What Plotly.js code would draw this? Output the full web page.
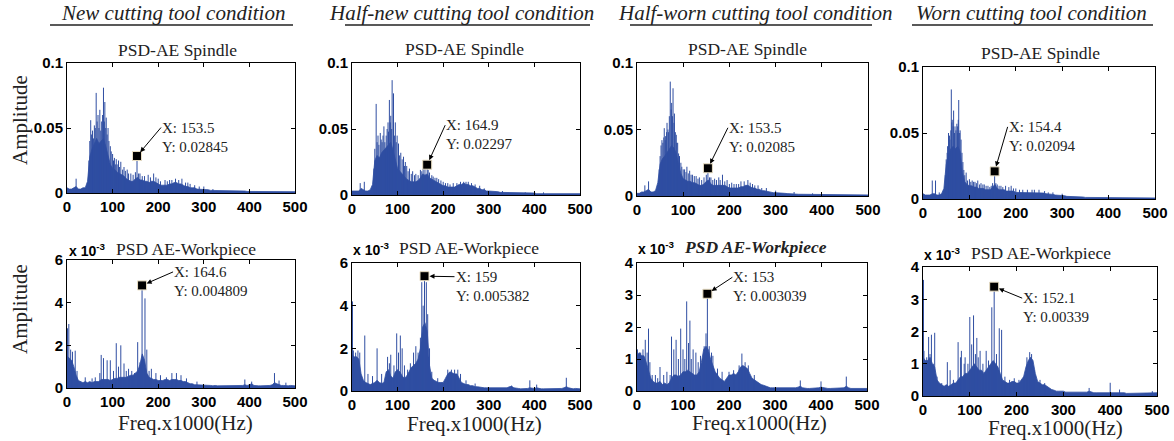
<!DOCTYPE html>
<html><head><meta charset="utf-8">
<script src="https://cdn.plot.ly/plotly-3.0.1.min.js"></script>
<style>html,body{margin:0;padding:0;background:#fff}#chart{width:1174px;height:441px}</style>
</head><body><div id="chart"></div>
<script>
// ---------- DATA ----------
const freq = [0,5,10,15,20,25,30,35,40,45,50,55,60,65,70,75,80,85,90,95,
 100,105,110,115,120,125,130,135,140,145,150,155,160,165,170,175,180,185,190,195,
 200,205,210,215,220,225,230,235,240,245,250,255,260,265,270,275,280,285,290,295,
 300,305,310,315,320,325,330,335,340,345,350,355,360,365,370,375,380,385,390,395,
 400,405,410,415,420,425,430,435,440,445,450,455,460,465,470,475,480,485,490,495,500];

// dense spectrum level, units of 1e-3
const envSpNew = [4,3,3,4,5,3,3,4,4,9, 28,34,38,42,38,40,42,36,28,22, 19,18,16,15,14,13,11,10,9,9,
 11,12,10,10,9,9,8,9,9,8, 7,6,6,6,6,7,7,8,8,7, 7,6,5,5,4,4,4,3,3,3,
 3,3,2.5,2,2,2,1.5,1.5,1.5,1.5, 1.5,1.5,1.5,1.5,1.5,1.5,1.5,1.5,1.5,1.2,
 1.2,1,1,1,1,1,1,1,1,1, 1,1,1,1,1,1,1,1,1,1,1];
const envSpHalfNew = [3,3,3,3,5,4,3,3,4,8, 26,30,28,32,34,36,38,40,34,28, 20,18,16,14,12,11,10,10,10,11,
 13,16,15,16,13,12,11,10,9,8, 7,7,6,6,6,6,7,8,8,9, 8,8,7,7,6,5,5,4,4,3,
 3,3,3,2.5,2.5,2,2,2,2,2, 1.5,1.5,1.5,1.5,1.5,1.5,1.5,1.5,1.5,1.5,
 1.5,1,1,1,1,1,1,1,1,1, 1,1,1,1,1,1,1,1,1,1,1];
const envSpHalfWorn = [2,2,3,3,4,5,3,3,4,10, 24,28,30,33,36,38,36,32,24,17, 13,12,11,11,10,10,9,8,8,9,
 11,12,9,8,8,8,8,8,8,7, 6,6,6,6,6,7,7,8,8,7, 6,6,5,5,4,4,3.5,3,3,2.5,
 2.5,2.5,2,2,2,1.8,1.6,1.5,1.5,1.5, 1.3,1.3,1.3,1.3,1.3,1.3,1.3,1.3,1.3,1.3,
 1,0.8,0.8,0.8,0.8,0.8,0.8,0.8,0.8,0.8, 0.8,0.8,0.8,0.8,0.8,0.8,0.8,0.8,0.8,0.8,0.8];
const envSpWorn = [4,3,3,3,4,4,3,3,4,8, 26,34,38,40,38,40,36,20,13,11, 10,10,9,9,8,8,8,7,7,7,
 9,11,8,7,7,7,6,6,6,6, 5,5,5,5,5,5,5,5,5,5, 5,5,4.5,4,4,3.5,3.5,3,3,2.5,
 2.5,2.5,2,2,2,2,1.5,1.5,1.5,1.5, 1.2,1.2,1.2,1.2,1.2,1.2,1.2,1.2,1.2,1.2,
 1,0.8,0.8,0.8,0.8,0.8,0.8,0.8,0.8,0.8, 0.8,0.8,0.8,0.8,0.8,0.8,0.8,0.8,0.8,0.8,0.8];
const envWpNew = [1.5,1.4,1.3,1.0,0.6,0.35,0.3,0.25,0.3,0.25, 0.3,0.25,0.3,0.3,0.3,0.4,0.4,0.4,0.4,0.35,
 0.4,0.45,0.45,0.5,0.5,0.5,0.5,0.55,0.6,0.6, 0.7,0.8,1.1,1.6,1.3,0.7,0.5,0.45,0.4,0.4,
 0.35,0.35,0.35,0.4,0.4,0.35,0.4,0.4,0.4,0.35, 0.35,0.3,0.3,0.25,0.2,0.2,0.15,0.15,0.15,0.15,
 0.15,0.12,0.12,0.12,0.1,0.12,0.1,0.1,0.1,0.1, 0.1,0.1,0.1,0.1,0.1,0.1,0.1,0.12,0.15,0.12,
 0.15,0.2,0.12,0.1,0.1,0.1,0.1,0.1,0.1,0.12, 0.15,0.25,0.2,0.15,0.12,0.12,0.1,0.1,0.12,0.1,0.1];
const envWpHalfNew = [1.7,1.6,1.6,1.5,0.8,0.5,0.4,0.35,0.3,0.35, 0.4,0.5,0.4,0.35,0.4,0.9,1.0,0.7,0.6,0.9,
 1.0,0.9,0.7,0.6,0.7,0.9,1.1,1.2,1.3,1.5, 2.0,3.0,3.2,2.8,1.2,0.6,0.5,0.45,0.4,0.4,
 0.4,0.6,0.8,0.9,0.85,0.8,0.8,0.6,0.4,0.35, 0.3,0.3,0.25,0.25,0.2,0.2,0.18,0.15,0.15,0.15,
 0.15,0.12,0.12,0.12,0.12,0.12,0.12,0.12,0.15,0.2, 0.22,0.15,0.12,0.12,0.1,0.1,0.1,0.12,0.15,0.12,
 0.12,0.15,0.12,0.1,0.1,0.1,0.1,0.1,0.1,0.1, 0.12,0.12,0.12,0.15,0.2,0.15,0.12,0.1,0.12,0.1,0.1];
const envWpHalfWorn = [1.1,1.2,1.1,1.1,0.9,0.6,0.4,0.3,0.25,0.25, 0.3,0.2,0.25,0.2,0.25,0.4,0.5,0.5,0.45,0.5,
 0.6,0.6,0.65,0.6,0.55,0.5,0.5,0.6,0.9,1.3, 1.4,1.3,1.0,0.8,0.6,0.5,0.4,0.35,0.3,0.4,
 0.5,0.5,0.55,0.5,0.6,0.75,0.8,0.75,0.7,0.55, 0.4,0.35,0.3,0.25,0.2,0.18,0.15,0.12,0.1,0.1,
 0.1,0.1,0.08,0.08,0.08,0.08,0.08,0.08,0.08,0.1, 0.12,0.15,0.1,0.08,0.08,0.08,0.08,0.08,0.08,0.1,
 0.12,0.1,0.08,0.08,0.08,0.08,0.08,0.08,0.08,0.08, 0.1,0.15,0.1,0.08,0.08,0.08,0.08,0.08,0.08,0.08,0.08];
const envWpWorn = [1.2,1.1,1.1,1.2,1.0,0.9,0.5,0.4,0.35,0.3, 0.35,0.3,0.35,0.4,0.4,0.5,0.6,0.6,0.7,0.7,
 0.8,0.9,1.0,0.9,0.8,0.8,0.7,0.8,0.9,1.0, 1.1,1.0,0.9,0.7,0.5,0.45,0.4,0.4,0.45,0.45,
 0.4,0.4,0.5,0.6,0.9,1.1,1.2,1.1,0.7,0.45, 0.4,0.35,0.35,0.3,0.25,0.2,0.18,0.15,0.15,0.15,
 0.15,0.12,0.12,0.1,0.1,0.1,0.1,0.1,0.1,0.1, 0.12,0.15,0.12,0.1,0.1,0.1,0.1,0.1,0.1,0.1,
 0.12,0.12,0.1,0.1,0.12,0.1,0.1,0.08,0.08,0.08, 0.08,0.08,0.08,0.08,0.08,0.08,0.08,0.08,0.1,0.1,0.1];

// individual spectral peaks (x in kHz, height in units of 1e-3)
const spkXSpNew = [20,48,52,56,60,64,68,72,76,80,83,86,90,95,100,104,108,113,118,125,132,140,153.5,160,170,178,190,200,215,230,238,245,252,265,280,300,320,
 50,54,58,62,66,70,74,78,82,85,88,92,97,102,106,110,115,122,128,135,145,150,157,165,183,195,205,220,225,260,270,290];
const spkYSpNew = [11,25,56,48,52,77,60,64,55,81,70,58,50,36,30,27,26,25,24,20,18,15,28.45,15,13,14,15,11,10,10,11,10,11,8,6,5,3,
 40,45,42,50,55,50,48,60,55,50,45,40,32,25,22,22,20,18,17,15,14,16,15,13,12,12,9,9,10,8,7,5];
const spkXSpHalfNew = [18,27,48,53,57,62,66,70,75,79,82,85,88,91,95,99,102,107,113,117,120,126,133,140,150,156,164.9,170,178,186,195,205,215,230,245,255,270,290,330,380,420,
 50,55,59,64,68,72,77,80,84,87,93,97,104,110,115,123,130,137,145,153,160,167,175,182,190,200,210,222,238,250,262,280];
const spkYSpHalfNew = [9,10,20,69,45,47,40,52,45,55,72,60,87,77,55,45,39,32,29,25,22,20,18,16,19,20,22.97,17,14,13,11,9,8,9,10,10,8,5,3,2,2,
 35,40,38,42,45,40,50,48,55,50,45,40,30,27,22,18,16,15,15,18,21,19,15,13,12,10,9,9,10,10,9,7];
const spkXSpHalfWorn = [17,25,48,52,54,59,62,65,68,72,75,78,81,85,88,92,97,103,108,114,120,128,135,145,153.5,160,168,177,185,195,205,215,225,232,240,250,262,280,300,340,380,
 50,56,58,61,64,67,70,74,77,80,83,86,90,95,100,106,111,117,124,132,140,150,157,164,172,180,190,200,210,220,245,255,270];
const spkYSpHalfWorn = [8,11,20,38,42,51,45,55,48,86,70,81,62,46,40,30,22,20,22,19,16,15,14,14,20.85,14,13,14,16,12,10,9,11,11,12,9,8,6,4,3,2,
 30,40,44,42,48,50,60,65,60,55,48,40,32,25,20,18,17,16,15,13,12,16,14,12,12,12,11,9,9,9,10,8,6];
const spkXSpWorn = [20,27,35,48,52,55,58,61,63,66,69,73,75,77,80,84,88,93,100,106,112,118,125,132,140,147,154.4,160,168,178,190,200,215,235,250,262,280,300,
 50,53,57,60,62,65,68,71,74,76,79,82,86,90,96,103,109,115,122,129,136,144,150,157,164,172,185,195,208,225,240,270];
const spkYSpWorn = [14,14,5,18,35,50,45,83,60,67,55,57,50,75,52,35,22,20,15,14,13,14,12,11,10,10,20.94,11,10,10,10,8,7,7,7,6,5,4,
 30,40,48,52,58,55,50,52,55,60,50,45,28,18,14,13,13,12,11,11,10,9,12,12,10,9,9,8,7,7,7,5];
const spkXWpNew = [1,4,8,12,18,22,40,55,62,72,75,80,88,95,102,108,113,118,125,130,135,142,148,155,160,164.6,171,175,180,185,195,205,218,230,240,250,262,285,390,405,455,465,480];
const spkYWpNew = [2.8,3.0,1.8,1.7,1.75,0.8,0.5,0.45,0.5,0.7,1.55,1.4,1.3,1.3,0.8,2.1,1.0,2.0,1.15,0.8,0.9,0.8,0.7,2.15,1.2,4.809,4.2,1.8,0.8,0.9,0.7,0.6,0.5,0.7,0.7,0.6,0.45,0.3,0.4,0.3,0.7,0.35,0.25];
const spkXWpHalfNew = [1,3,8,13,17,28,35,45,55,65,78,82,85,92,98,102,106,110,115,122,128,135,140,145,150,153,156,159,163,166,170,175,188,210,218,225,232,238,250,270,350,390,405,470];
const spkYWpHalfNew = [4.2,1.9,1.8,1.9,1.8,2.6,0.8,0.7,2.0,0.8,1.6,1.3,1.7,1.2,2.7,1.8,2.6,2.0,1.2,1.0,1.3,1.8,2.1,1.8,2.5,5.1,4.0,5.382,5.1,3.6,2.0,0.9,0.6,1.0,1.0,1.0,1.0,0.8,0.5,0.35,0.25,0.5,0.3,0.62];
const spkXWpHalfWorn = [1,8,13,18,22,25,28,33,40,45,50,58,65,72,75,80,85,90,95,100,104,108,112,115,118,122,128,133,138,146,150,153,157,162,165,175,185,200,210,222,228,235,242,255,355,400,455];
const spkYWpHalfWorn = [1.3,1.2,1.3,1.6,1.2,1.95,0.9,0.5,0.5,0.4,0.75,0.5,0.6,0.5,1.7,1.3,1.6,1.0,1.95,1.3,1.0,2.8,1.5,2.2,1.0,1.3,1.2,0.9,1.1,1.4,1.8,3.039,1.4,1.2,1.1,0.7,0.6,0.6,0.65,0.8,1.17,0.9,0.8,0.5,0.33,0.3,0.45];
const spkXWpWorn = [1,2,8,12,15,18,22,25,30,40,52,58,65,75,80,82,88,90,96,100,104,108,112,115,118,122,128,135,140,147,152.1,157,163,168,175,185,195,205,215,222,228,232,238,250,260,355,400,420,490];
const spkYWpWorn = [3.6,1.4,1.2,1.83,1.3,1.9,1.0,1.96,0.6,0.4,1.05,0.8,0.5,1.67,1.2,1.4,1.0,1.2,1.0,2.45,1.6,2.5,1.3,1.8,1.2,1.4,1.0,1.4,1.1,2.75,3.39,1.3,2.1,2.05,0.6,0.5,0.55,0.5,0.6,1.2,1.36,1.3,0.8,0.5,0.4,0.25,0.41,0.2,0.15];

// data-cursor points (X in kHz, Y in true amplitude)
const cursorX = [153.5,164.9,153.5,154.4,164.6,159,153,152.1];
const cursorY = [0.02845,0.02297,0.02085,0.02094,0.004809,0.005382,0.003039,0.00339];

// text
const columnTitles = ['New cutting tool condition','Half-new cutting tool condition','Half-worn cutting tool condition','Worn cutting tool condition'];
const spindleTitle = 'PSD-AE Spindle';
const workTitle = 'PSD AE-Workpiece';
const yLabel = 'Amplitude';
const xLabel = 'Freq.x1000(Hz)';
const xTicks = [0,100,200,300,400,500];
const yTicksSp = [0,0.05,0.1];
const yTicksWp6 = [0,2,4,6];
const yTicksWp4 = [0,1,2,3,4];

// ---------- LAYOUT / DRAW ----------
const W=1174,H=441;
const BLUE='rgb(47,78,162)';
const SERIF='Liberation Serif, Times New Roman, serif';
const SANS='Liberation Sans, Arial, sans-serif';
const LINEGAP=9.5;

// tip: [text-left offset x, text-block middle offset y] in pixels from the cursor point
const panels = [
 {env:envSpNew, sx:spkXSpNew, sy:spkYSpNew, k:0.001, m:1, box:[67,295,63,193], yr:[0,0.1], yt:yTicksSp, tip:[24,-19]},
 {env:envSpHalfNew, sx:spkXSpHalfNew, sy:spkYSpHalfNew, k:0.001, m:1, box:[352,580,63,195], yr:[0,0.1], yt:yTicksSp, tip:[18,-30]},
 {env:envSpHalfWorn, sx:spkXSpHalfWorn, sy:spkYSpHalfWorn, k:0.001, m:1, box:[637,868,63,196], yr:[0,0.1], yt:yTicksSp, tip:[20,-31]},
 {env:envSpWorn, sx:spkXSpWorn, sy:spkYSpWorn, k:0.001, m:1, box:[923,1155,67,199], yr:[0,0.1], yt:yTicksSp, tip:[13,-35]},
 {env:envWpNew, sx:spkXWpNew, sy:spkYWpNew, k:1, m:1000, box:[67,295,260,388], yr:[0,6], yt:yTicksWp6, tip:[31,-4]},
 {env:envWpHalfNew, sx:spkXWpHalfNew, sy:spkYWpHalfNew, k:1, m:1000, box:[352,580,263,391], yr:[0,6], yt:yTicksWp6, tip:[30,10]},
 {env:envWpHalfWorn, sx:spkXWpHalfWorn, sy:spkYWpHalfWorn, k:1, m:1000, box:[637,867,263,391], yr:[0,4], yt:yTicksWp4, tip:[25,-7]},
 {env:envWpWorn, sx:spkXWpWorn, sy:spkYWpWorn, k:1, m:1000, box:[923,1157,267,396], yr:[0,4], yt:yTicksWp4, tip:[28,21]},
];

const traces=[]; const annotations=[]; const shapes=[];
const layout = {width:W, height:H, margin:{l:0,r:0,t:0,b:0}, paper_bgcolor:'white', plot_bgcolor:'white', showlegend:false};

panels.forEach((p,i)=>{
  const s = i===0 ? '' : String(i+1);
  const xa='x'+s, ya='y'+s;
  traces.push({x:freq, y:p.env.map(v=>v*p.k), type:'scatter', mode:'lines', fill:'tozeroy',
    fillcolor:BLUE, line:{color:BLUE,width:0.8}, xaxis:xa, yaxis:ya, hoverinfo:'skip'});
  const xs=[], ys=[];
  p.sx.forEach((x,j)=>{ xs.push(x,x,null); ys.push(0,p.sy[j]*p.k,null); });
  traces.push({x:xs, y:ys, type:'scatter', mode:'lines', line:{color:BLUE,width:1}, xaxis:xa, yaxis:ya, hoverinfo:'skip'});
  const cx=cursorX[i], cy=cursorY[i]*p.m;
  traces.push({x:[cx], y:[cy], type:'scatter', mode:'markers', marker:{symbol:'square',size:9,color:'black',line:{color:'#eadfc4',width:1}}, xaxis:xa, yaxis:ya, cliponaxis:false, hoverinfo:'skip'});
  const tickfont={family:SANS,size:15,color:'black',weight:'bold'};
  const common={showline:true, mirror:'ticks', linecolor:'black', linewidth:1, ticks:'inside', ticklen:4, tickcolor:'black', showgrid:false, zeroline:false, tickfont:tickfont, fixedrange:true};
  layout['xaxis'+s] = Object.assign({domain:[p.box[0]/W,p.box[1]/W], anchor:ya, range:[0,500], tickvals:xTicks}, common);
  layout['yaxis'+s] = Object.assign({domain:[1-p.box[3]/H,1-p.box[2]/H], anchor:xa, range:p.yr, tickvals:p.yt}, common);
  const tipFont={family:SERIF,size:15,color:'#222'};
  // first line carries the arrow
  annotations.push({xref:xa, yref:ya, x:cx, y:cy, text:'X: '+cx, showarrow:true,
    ax:p.tip[0], ay:p.tip[1]-LINEGAP, xanchor:'left', yanchor:'middle', align:'left', borderpad:0,
    arrowhead:2, arrowsize:1, arrowwidth:1, arrowcolor:'black', standoff:5, font:tipFont});
  annotations.push({xref:xa, yref:ya, x:cx, y:cy, text:'Y: '+cursorY[i], showarrow:false,
    xanchor:'left', yanchor:'middle', align:'left', borderpad:0,
    xshift:p.tip[0], yshift:-(p.tip[1]+LINEGAP), font:tipFont});
});

function pa(text,x,y,font,extra){ annotations.push(Object.assign({xref:'paper',yref:'paper',x:x/W,y:1-y/H,text:text,showarrow:false,xanchor:'center',yanchor:'middle',font:font},extra||{})); }

const hdrX=[173,462,755,1031];
const ulines=[[50,293],[345,590],[630,872],[912,1153]];
columnTitles.forEach((t,i)=>{
  pa('<i>'+t+'</i>', hdrX[i], 13, {family:SERIF,size:21,color:'#222'});
  shapes.push({type:'line',xref:'paper',yref:'paper',x0:ulines[i][0]/W,x1:ulines[i][1]/W,y0:1-25/H,y1:1-25/H,line:{color:'#222',width:1.5}});
});
const spX=[177,465,747,1040], spY=[50,49,49,53];
spX.forEach((x,i)=>pa(spindleTitle,x,spY[i],{family:SERIF,size:17.5,color:'#222'}));
const wpX=[186,469,755,1041], wpY=[249,248,247,253], expX=[67,351,636,922];
wpX.forEach((x,i)=>{
  pa(i===2?'<b><i>'+workTitle+'</i></b>':workTitle, x, wpY[i], {family:SERIF,size:17.5,color:'#222'});
  pa('x 10<sup>-3</sup>', expX[i], wpY[i]+1, {family:SANS,size:14,color:'black',weight:'bold'}, {xanchor:'left'});
});
pa(yLabel,20,120,{family:SERIF,size:21,color:'#222'},{textangle:-90});
pa(yLabel,20,309,{family:SERIF,size:21,color:'#222'},{textangle:-90});
const xlX=[185,474,760,1055], xlY=[423,424,423,428];
xlX.forEach((x,i)=>pa(xLabel,x,xlY[i],{family:SERIF,size:21,color:'#222'}));

layout.annotations=annotations; layout.shapes=shapes;
Plotly.newPlot('chart', traces, layout, {staticPlot:true, displayModeBar:false});
</script></body></html>
